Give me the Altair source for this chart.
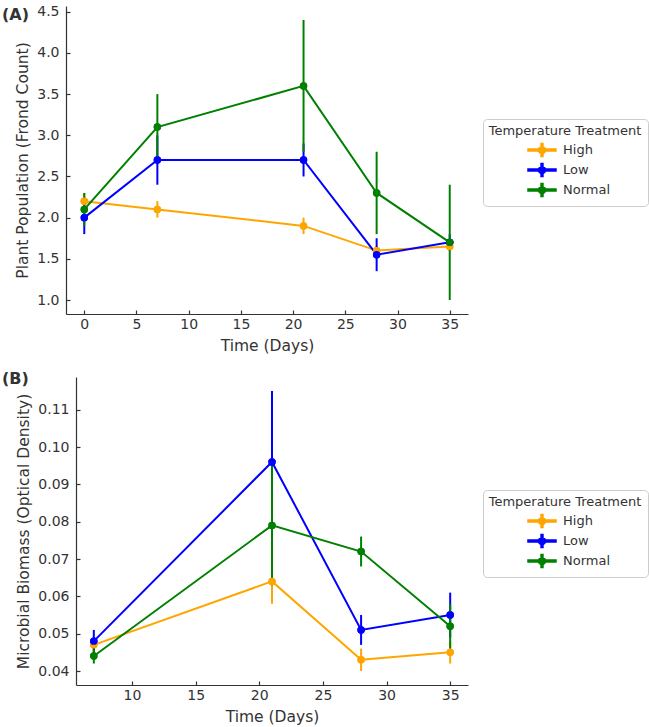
import altair as alt
import pandas as pd

treatments = ["High", "Low", "Normal"]
colors = ["orange", "blue", "green"]

# Panel A: plant population
days_a = [0, 7, 21, 28, 35]
a_high = [2.2, 2.1, 1.9, 1.6, 1.65]
a_high_err = [0.1, 0.1, 0.1, 0.05, 0.05]
a_low = [2.0, 2.7, 2.7, 1.55, 1.7]
a_low_err = [0.2, 0.3, 0.2, 0.2, 0.1]
a_norm = [2.1, 3.1, 3.6, 2.3, 1.7]
a_norm_err = [0.2, 0.4, 0.8, 0.5, 0.7]

# Panel B: microbial biomass
days_b = [7, 21, 28, 35]
b_high = [0.047, 0.064, 0.043, 0.045]
b_high_err = [0.002, 0.006, 0.003, 0.003]
b_low = [0.048, 0.096, 0.051, 0.055]
b_low_err = [0.003, 0.019, 0.004, 0.006]
b_norm = [0.044, 0.079, 0.072, 0.052]
b_norm_err = [0.002, 0.016, 0.004, 0.006]

x_ticks_a = [0, 5, 10, 15, 20, 25, 30, 35]
y_ticks_a = [1.0, 1.5, 2.0, 2.5, 3.0, 3.5, 4.0, 4.5]
x_ticks_b = [10, 15, 20, 25, 30, 35]
y_ticks_b = [0.04, 0.05, 0.06, 0.07, 0.08, 0.09, 0.10, 0.11]


def build_df(days, series, errs):
    rows = []
    for t, vals, es in zip(treatments, series, errs):
        for d, v, e in zip(days, vals, es):
            rows.append({"Day": d, "Treatment": t, "Value": v, "lo": v - e, "hi": v + e})
    return pd.DataFrame(rows)


df_a = build_df(days_a, [a_high, a_low, a_norm], [a_high_err, a_low_err, a_norm_err])
df_b = build_df(days_b, [b_high, b_low, b_norm], [b_high_err, b_low_err, b_norm_err])

FONT = "DejaVu Sans"
INK = "#333333"
SYMBOL = ("M-1.75,-0.12H1.75V0.12H-1.75Z"
          "M-0.12,-0.8H0.12V0.8H-0.12Z"
          "M0.45,0A0.45,0.45 0 1,1 -0.45,0A0.45,0.45 0 1,1 0.45,0Z")
H = 308
W = 402


def panel(df, xdom, xticks, ydom, yticks, yfmt, ytitle, label, inset, lx, ly, tdy):
    scale = alt.Scale(domain=treatments, range=colors)
    xs = alt.Scale(domain=xdom, nice=False, zero=False, range=[inset, W])
    ys = alt.Scale(domain=ydom, nice=False, zero=False)
    x_main = alt.X("Day:Q", title="Time (Days)", scale=xs,
                   axis=alt.Axis(values=xticks, format="d", ticks=False, labelPadding=3,
                                 titlePadding=7))
    y_main = alt.Y("lo:Q", title=ytitle, scale=ys,
                   axis=alt.Axis(values=yticks, format=yfmt, ticks=False, labelPadding=7,
                                 titlePadding=6, offset=-inset))
    # inward ticks: tick-only axes moved onto the spines
    x_tick = alt.X("Day:Q", scale=xs,
                   axis=alt.Axis(values=xticks, orient="top", offset=-H, labels=False,
                                 domain=False, title=None, ticks=True, tickSize=4))
    y_tick = alt.Y("Value:Q", scale=ys,
                   axis=alt.Axis(values=yticks, orient="right", offset=-(W - inset),
                                 labels=False, domain=False, title=None, ticks=True,
                                 tickSize=4))
    x_none = alt.X("Day:Q", scale=xs, axis=None)
    y_none = alt.Y("Value:Q", scale=ys, axis=None)
    base = alt.Chart(df)
    # first layer carries the legend (drawn again on top later)
    pts_legend = base.mark_circle(size=55, opacity=1).encode(
        x=x_none, y=y_none,
        color=alt.Color("Treatment:N", scale=scale, legend=alt.Legend(
            title="Temperature Treatment", orient="none", legendX=lx, legendY=ly,
            symbolType=SYMBOL, symbolSize=256, symbolOffset=13,
            titleFontSize=13, titleFontWeight="normal", titleFont=FONT,
            titleColor=INK, titleAnchor="middle", titlePadding=3,
            labelFontSize=13, labelFont=FONT, labelColor=INK, labelOffset=12,
            rowPadding=0, strokeColor="#cccccc", fillColor="white",
            cornerRadius=4, padding=6)))
    rules = base.mark_rule(strokeWidth=2).encode(
        x=x_main, y=y_main, y2="hi:Q",
        color=alt.Color("Treatment:N", scale=scale, legend=None))
    lines = base.mark_line(strokeWidth=2).encode(
        x=x_tick, y=y_tick, color=alt.Color("Treatment:N", scale=scale, legend=None),
        order="Day:Q")
    pts = base.mark_circle(size=55, opacity=1).encode(
        x=x_none, y=y_none,
        color=alt.Color("Treatment:N", scale=scale, legend=None))
    return alt.layer(pts_legend, rules, lines, pts).resolve_axis(
        x="independent", y="independent").properties(
        width=W, height=H,
        title=alt.TitleParams(label, anchor="start", frame="group", fontSize=16,
                              fontWeight="bold", font=FONT, color=INK,
                              dx=-64, dy=tdy, baseline="top"))


top = panel(df_a, [-1.75, 36.75], x_ticks_a, [0.83, 4.57], y_ticks_a, ".1f",
            "Plant Population (Frond Count)", "(A)", 0, 417, 113, 22)
bottom = panel(df_b, [5.6, 36.4], x_ticks_b, [0.03625, 0.11875], y_ticks_b, ".2f",
               "Microbial Biomass (Optical Density)", "(B)", 10, 417, 113, 14)

chart = alt.vconcat(top, bottom, spacing=17).properties(
    padding={"left": 2, "top": 4, "right": 0, "bottom": 0}
).resolve_scale(color="independent").resolve_legend(color="independent"
).configure_view(stroke=None).configure_axis(
    grid=False, domainColor=INK, tickColor=INK, labelColor=INK,
    titleColor=INK, labelFont=FONT, titleFont=FONT, labelFontSize=14,
    titleFontSize=15.5, titleFontWeight="normal", domainWidth=1.2, tickWidth=1.2
)

chart.save("out.html", embed_options={"renderer": "svg", "actions": False})
